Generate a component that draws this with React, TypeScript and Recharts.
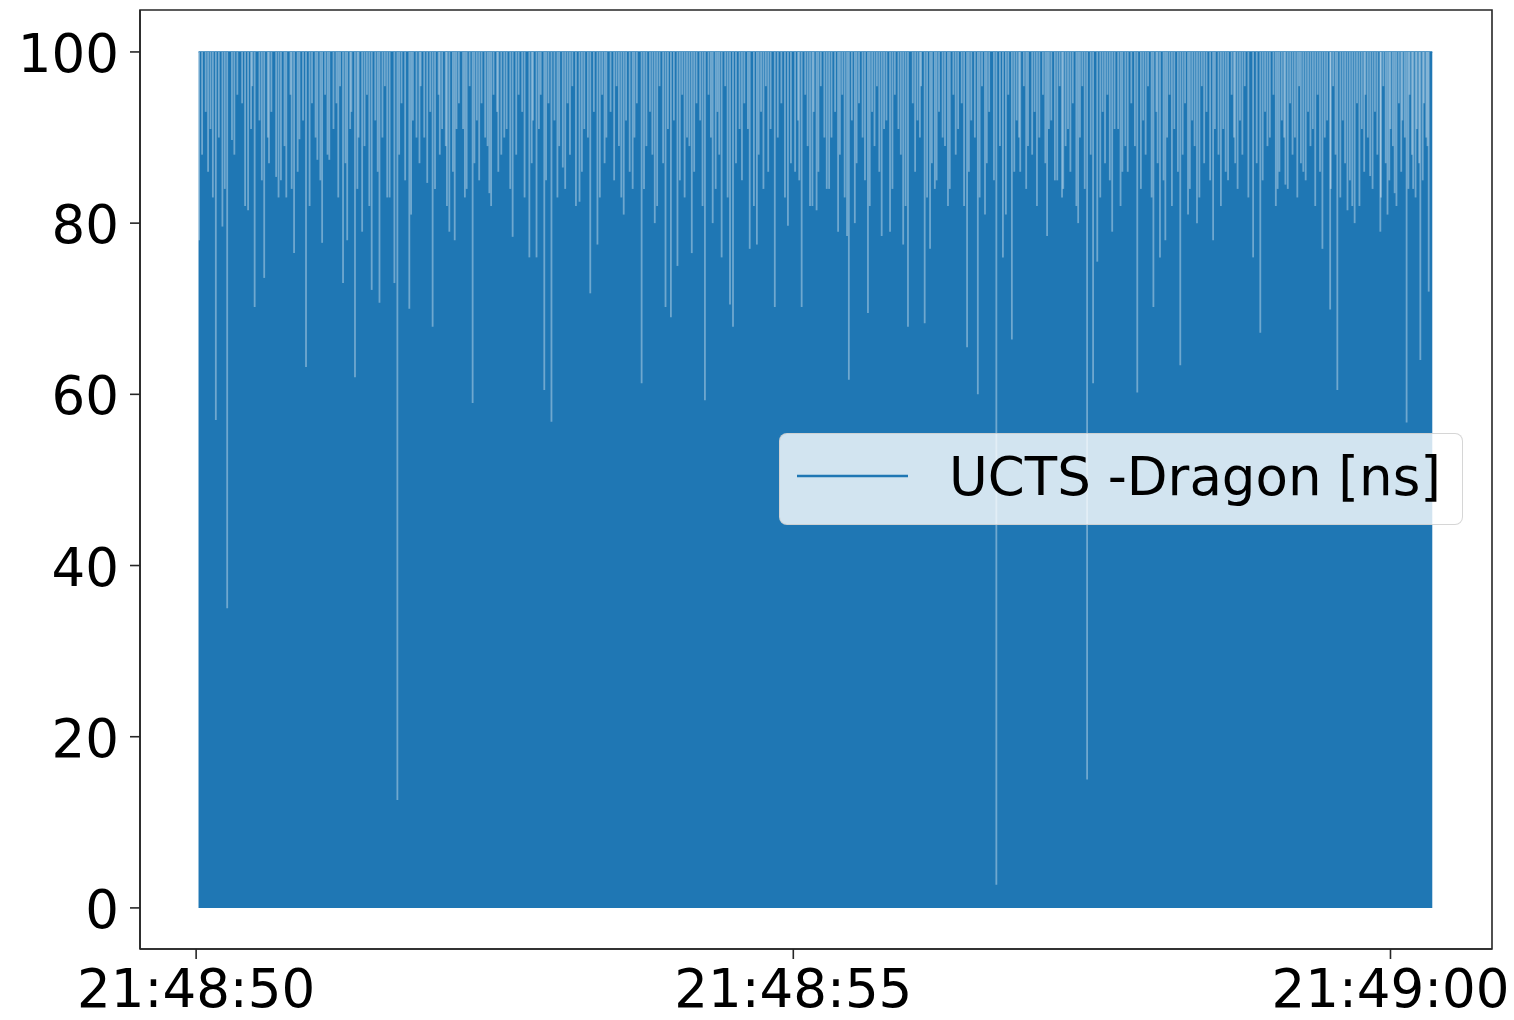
import React from 'react';
import { ComposedChart, Area, Scatter, ErrorBar, XAxis, YAxis, Legend, ReferenceArea } from 'recharts';

// seconds after 21:48:50
const SERIES_NAME = 'UCTS -Dragon [ns]';
const BLUE = '#1f77b4';
const FONT = '"DejaVu Sans", sans-serif';

const xDomain = [-0.47, 10.85];
const yDomain = [-4.8, 104.9];
const xTicks = [0, 5, 10];
const xTickLabels = ['21:48:50', '21:48:55', '21:49:00'];
const yTicks = [0, 20, 40, 60, 80, 100];

// the signal swings between 0 and 100 ns the whole time
const envelopeTimes = [0.02, 10.35];
const envelopeValues = [100, 100];

// peaks that do not reach 100 (deep ones)
const dipTimes = [
  0.025, 0.05, 0.165, 0.22, 0.26, 0.3, 0.385, 0.435, 0.49, 0.57, 0.63, 0.67, 0.71, 0.755, 0.82,
  0.865, 0.92, 1.015, 1.055, 1.115, 1.175, 1.23, 1.265, 1.33, 1.39, 1.47, 1.535, 1.62, 1.66,
  1.685, 1.785, 1.845, 1.935, 1.98, 2.06, 2.12, 2.165, 2.265, 2.315, 2.455, 2.555, 2.65, 2.79,
  2.85, 2.915, 2.975, 3.025, 3.07, 3.21, 3.3, 3.36, 3.435, 3.56, 3.655, 3.73, 3.77, 3.84, 3.93,
  3.975, 4.03, 4.15, 4.26, 4.325, 4.4, 4.47, 4.495, 4.635, 4.695, 4.845, 4.955, 5.015, 5.07,
  5.14, 5.195, 5.28, 5.375, 5.45, 5.465, 5.515, 5.625, 5.74, 5.81, 5.92, 5.96, 6.1, 6.145, 6.185,
  6.295, 6.455, 6.545, 6.605, 6.7, 6.755, 6.83, 6.9, 6.965, 7.125, 7.19, 7.26, 7.385, 7.46, 7.51,
  7.545, 7.67, 7.755, 7.78, 7.88, 8.015, 8.07, 8.115, 8.24, 8.305, 8.38, 8.515, 8.56, 8.64, 8.7,
  8.85, 8.91, 9.055, 9.12, 9.27, 9.43, 9.495, 9.555, 9.64, 9.68, 9.83, 9.915, 9.975, 10.035,
  10.135, 10.19, 10.25, 10.32,
];
const dipLows = [
  78, 88, 57, 79.6, 35, 89.7, 94, 81.5, 70.2, 73.6, 93, 85.4, 85, 83, 76.5,
  89.8, 63.2, 87.4, 77.7, 87.4, 94, 73, 78, 62, 79, 72.2, 70.7, 83, 73,
  12.6, 70, 90, 84.7, 67.9, 91, 79, 78, 84, 59, 83.5, 88, 78.4, 76,
  76, 60.5, 56.8, 83, 86.5, 82.5, 71.8, 77.5, 90, 83, 84, 61.3, 89, 80, 70.2,
  69, 75, 76.5, 59.3, 80, 76, 70.5, 67.9, 77, 77.5, 70.2, 79.7, 86, 70.2,
  82, 81.5, 84, 79, 78.5, 61.7, 80, 69.5, 78.5, 79, 77.5, 67.9, 68.3, 77, 84,
  82, 65.5, 60, 81, 2.7, 76, 66.4, 86, 89, 78.5, 85, 84, 80, 15, 61.3,
  75.5, 79, 86, 89, 60.2, 70.2, 76, 78, 63.4, 81, 80, 78, 88, 85, 87,
  76, 67.2, 84, 84.5, 86, 77, 69.9, 60.5, 81.5, 82, 85.5, 79, 81, 83.5,
  56.7, 84, 64, 72,
];

// misses reaching into the 80s
const mediumTimes = [
  0.1, 0.14, 0.19, 0.24, 0.32, 0.41, 0.46, 0.55, 0.61, 0.69,
  0.74, 0.8, 0.85, 0.95, 1.0, 1.04, 1.1, 1.19, 1.25, 1.29,
  1.35, 1.41, 1.45, 1.52, 1.56, 1.6, 1.7, 1.75, 1.8, 1.87,
  1.91, 2.0, 2.04, 2.1, 2.15, 2.18, 2.25, 2.33, 2.37, 2.44,
  2.47, 2.53, 2.58, 2.63, 2.68, 2.75, 2.81, 2.87, 2.93, 3.04,
  3.09, 3.13, 3.18, 3.23, 3.28, 3.38, 3.42, 3.5, 3.54, 3.58,
  3.63, 3.67, 3.75, 3.82, 3.86, 3.91, 3.95, 4.05, 4.09, 4.13,
  4.17, 4.24, 4.31, 4.35, 4.38, 4.45, 4.52, 4.57, 4.62, 4.67,
  4.71, 4.75, 4.79, 4.87, 4.93, 4.98, 5.05, 5.12, 5.16, 5.21,
  5.26, 5.3, 5.39, 5.43, 5.53, 5.6, 5.64, 5.68, 5.72, 5.76,
  5.83, 5.9, 5.94, 6.02, 6.06, 6.12, 6.16, 6.2, 6.27, 6.31,
  6.36, 6.43, 6.47, 6.52, 6.56, 6.62, 6.68, 6.73, 6.78, 6.85,
  6.89, 6.95, 7.0, 7.04, 7.11, 7.14, 7.21, 7.25, 7.28, 7.32,
  7.37, 7.4, 7.44, 7.49, 7.57, 7.61, 7.65, 7.69, 7.74, 7.8,
  7.86, 7.91, 7.95, 8.0, 8.05, 8.1, 8.13, 8.17, 8.22, 8.26,
  8.32, 8.36, 8.4, 8.44, 8.49, 8.53, 8.58, 8.62, 8.69, 8.72,
  8.76, 8.81, 8.88, 8.93, 8.97, 9.04, 9.07, 9.11, 9.14, 9.18,
  9.22, 9.25, 9.29, 9.33, 9.37, 9.41, 9.45, 9.5, 9.54, 9.58,
  9.62, 9.66, 9.7, 9.74, 9.78, 9.81, 9.85, 9.89, 9.92, 9.96,
  9.99, 10.02, 10.05, 10.09, 10.12, 10.15, 10.18, 10.21, 10.24, 10.27,
  10.31,
];
const mediumLows = [
  86, 83, 90, 84, 88, 82, 91, 85, 87, 83,
  89, 84, 86, 82, 90, 85, 88, 83, 87, 91,
  84, 89, 82, 86, 90, 83, 88, 85, 81, 87,
  90, 84, 88, 82, 86, 91, 83, 87, 85, 89,
  82, 86, 90, 84, 88, 83, 87, 91, 85, 89,
  84, 88, 82, 86, 90, 83, 87, 85, 89, 81,
  86, 90, 84, 88, 82, 87, 91, 85, 83, 89,
  86, 82, 90, 84, 88, 83, 87, 85, 91, 82,
  88, 84, 86, 90, 83, 87, 85, 89, 82, 86,
  90, 84, 88, 83, 87, 85, 82, 89, 86, 91,
  84, 88, 82, 86, 90, 83, 87, 85, 89, 84,
  88, 82, 86, 90, 83, 87, 85, 89, 81, 86,
  90, 84, 88, 82, 87, 91, 85, 83, 89, 86,
  82, 90, 84, 88, 83, 87, 85, 91, 82, 86,
  89, 84, 88, 83, 87, 85, 90, 82, 86, 88,
  84, 89, 83, 87, 85, 91, 82, 86, 90, 84,
  88, 83, 87, 85, 89, 82, 86, 90, 84, 88,
  83, 87, 85, 89, 82, 86, 90, 84, 88, 83,
  87, 85, 80, 82, 86, 90, 84, 88, 83, 87,
  85, 89, 82, 86, 90, 84, 88, 83, 87, 85,
  89,
];

// shallow misses near the top
const shallowTimes = [
  0.08, 0.12, 0.345, 0.47, 0.53, 0.6, 0.79, 0.895, 0.97, 1.08, 1.15, 1.205, 1.3, 1.36, 1.43, 1.5,
  1.58, 1.72, 1.815, 1.88, 1.96, 2.03, 2.09, 2.2, 2.235, 2.29, 2.35, 2.39, 2.42, 2.49, 2.52, 2.6,
  2.7, 2.73, 2.82, 2.885, 2.95, 3.0, 3.11, 3.15, 3.25, 3.33, 3.4, 3.47, 3.52, 3.6, 3.69, 3.8, 3.88,
  4.0, 4.07, 4.11, 4.19, 4.22, 4.29, 4.365, 4.43, 4.55, 4.59, 4.73, 4.77, 4.81, 4.9, 5.04, 5.1,
  5.17, 5.23, 5.32, 5.35, 5.41, 5.49, 5.55, 5.58, 5.66, 5.7, 5.78, 5.85, 5.88, 6.0, 6.04, 6.07,
  6.22, 6.25, 6.34, 6.38, 6.41, 6.49, 6.58, 6.64, 6.8, 6.87, 6.93, 7.02, 7.06, 7.09, 7.16, 7.23,
  7.3, 7.34, 7.42, 7.59, 7.63, 7.72, 7.83, 7.93, 7.97, 8.04, 8.15, 8.19, 8.28, 8.34, 8.42, 8.46,
  8.6, 8.67, 8.74, 8.78, 8.95, 8.99, 9.02, 9.09, 9.16, 9.2, 9.235, 9.31, 9.35, 9.39, 9.47, 9.52,
  9.6, 9.72, 9.76, 9.79, 9.87, 9.94, 10.0, 10.07, 10.1, 10.16, 10.22, 10.28, 10.3,
];
const shallowLows = [
  93, 91, 95, 96, 92, 90, 95, 92, 94, 95, 91, 96, 93, 90, 95, 92,
  96, 94, 92, 96, 93, 95, 89, 94, 91, 96, 92, 94, 90, 95, 93, 91,
  95, 93, 92, 95, 94, 92, 94, 96, 91, 93, 95, 93, 96, 92, 94, 93, 96,
  92, 95, 90, 94, 92, 95, 93, 96, 91, 94, 93, 96, 91, 94, 92, 95,
  93, 96, 90, 93, 95, 92, 94, 90, 93, 96, 92, 95, 91, 94, 92, 96,
  93, 90, 95, 91, 94, 92, 96, 93, 95, 92, 96, 93, 90, 95, 92, 96,
  91, 94, 96, 93, 95, 91, 94, 92, 96, 93, 95, 91, 94, 92, 96, 93,
  91, 95, 92, 96, 93, 90, 95, 92, 94, 90, 96, 93, 91, 95, 92, 96,
  92, 94, 91, 95, 93, 96, 91, 94, 92, 95, 91, 94, 90,
];

const TOP = 100;
const envelopeRows = envelopeTimes.map((t, i) => ({ t, v: envelopeValues[i] }));
// each miss is a light gap from its low point up to the 100 ns level
const toRows = (times: number[], lows: number[]) =>
  times.map((t, i) => ({ t, y: TOP, err: [TOP - lows[i], 0] }));
const dipRows = [
  ...toRows(dipTimes, dipLows),
  ...toRows(mediumTimes, mediumLows),
  ...toRows(shallowTimes, shallowLows),
];

const XTick = (props: any) => {
  const { x, y, payload } = props;
  const label = xTickLabels[xTicks.indexOf(payload.value)];
  return (
    <text x={x} y={y} dy={40} textAnchor="middle" fontSize={53} fontFamily={FONT} fill="#000">
      {label}
    </text>
  );
};

const YTick = (props: any) => {
  const { x, y, payload } = props;
  return (
    <text x={x} y={y} dy={20} textAnchor="end" fontSize={53} fontFamily={FONT} fill="#000">
      {payload.value}
    </text>
  );
};

const LegendBox = (props: any) => {
  const items = (props.payload || []).filter((p: any) => p.type !== 'none');
  return (
    <div
      style={{
        width: 684,
        height: 92,
        boxSizing: 'border-box',
        background: 'rgba(255,255,255,0.8)',
        border: '1.5px solid rgba(204,204,204,0.8)',
        borderRadius: 8,
      }}
    >
      <svg width={684} height={92} style={{ position: 'absolute', left: 0, top: 0 }}>
        {items.map((p: any) => (
          <g key={p.value}>
            <line x1={18} x2={129} y1={43} y2={43} stroke={BLUE} strokeWidth={2.6} />
            <text x={170} y={62} fontSize={53} fontFamily={FONT} fill="#000">
              {p.value}
            </text>
          </g>
        ))}
      </svg>
    </div>
  );
};

const spine = { stroke: '#262626', strokeWidth: 1.6 };

export default function App() {
  return (
    <div style={{ position: 'absolute', left: 0, top: 0, background: '#fff' }}>
      <ComposedChart width={1514} height={1020} margin={{ top: 10, right: 22, bottom: 0, left: 0 }}>
        <XAxis
          dataKey="t"
          type="number"
          domain={xDomain}
          allowDataOverflow
          ticks={xTicks}
          tick={<XTick />}
          tickSize={10}
          tickMargin={8}
          height={71}
          axisLine={spine}
          tickLine={spine}
        />
        <YAxis
          dataKey="y"
          type="number"
          domain={yDomain}
          allowDataOverflow
          ticks={yTicks}
          tick={<YTick />}
          tickSize={10}
          tickMargin={11}
          width={140}
          axisLine={spine}
          tickLine={spine}
        />
        <Area
          data={envelopeRows}
          dataKey="v"
          name={SERIES_NAME}
          type="linear"
          baseValue={0}
          fill={BLUE}
          fillOpacity={1}
          stroke={BLUE}
          strokeWidth={1.5}
          dot={false}
          activeDot={false}
          isAnimationActive={false}
        />
        <Scatter
          data={dipRows}
          dataKey="y"
          shape={() => <g />}
          legendType="none"
          isAnimationActive={false}
        >
          <ErrorBar
            dataKey="err"
            direction="y"
            width={0}
            stroke="#ffffff"
            strokeOpacity={0.36}
            strokeWidth={1.8}
            isAnimationActive={false}
          />
        </Scatter>
        <ReferenceArea
          x1={xDomain[0]}
          x2={xDomain[1]}
          y1={yDomain[0]}
          y2={yDomain[1]}
          fill="none"
          fillOpacity={0}
          stroke="#262626"
          strokeWidth={1.6}
          ifOverflow="visible"
        />
        <Legend
          layout="vertical"
          align="center"
          verticalAlign="middle"
          content={<LegendBox />}
          wrapperStyle={{ left: 779, top: 433, width: 684, height: 92, zIndex: 5 }}
        />
      </ComposedChart>
    </div>
  );
}
